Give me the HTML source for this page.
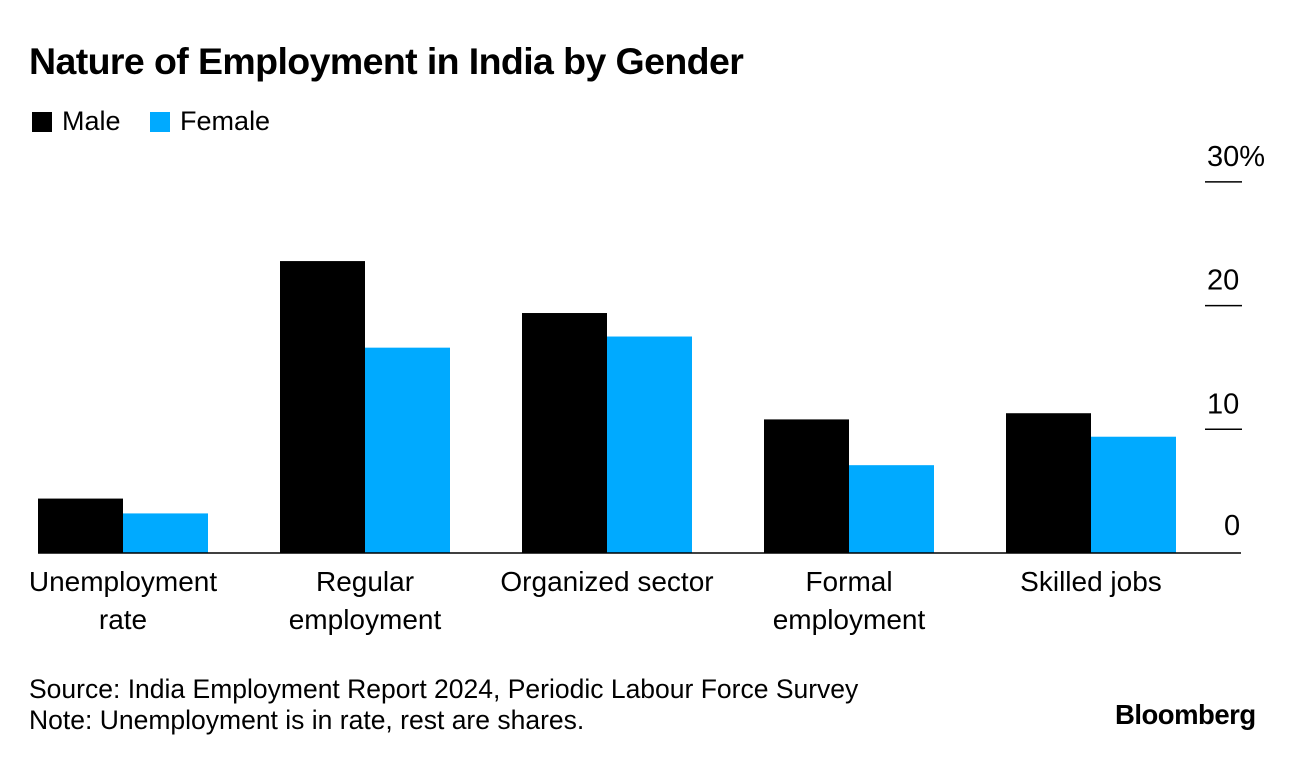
<!DOCTYPE html>
<html><head><meta charset="utf-8">
<style>
body{margin:0;background:#fff;font-family:"Liberation Sans",Arial,sans-serif;}
#wrap{position:relative;width:1296px;height:760px;overflow:hidden;}
.t{position:absolute;color:#000;white-space:nowrap;}
</style></head>
<body>
<div id="wrap">
<div class="t" style="left:29px;top:40px;font-size:37.5px;font-weight:bold;letter-spacing:-0.6px;">Nature of Employment in India by Gender</div>
<div style="position:absolute;left:32px;top:106px;font-size:27px;white-space:nowrap;">
 <span><span style="display:inline-block;width:20px;height:20px;background:#000;vertical-align:-2px;margin-right:10px;"></span>Male</span>
 <span style="margin-left:22px;"><span style="display:inline-block;width:20px;height:20px;background:#00aaff;vertical-align:-2px;margin-right:10px;"></span>Female</span>
</div>
<svg id="chart" width="1296" height="760" style="position:absolute;left:0;top:0;"></svg>
<div class="t" style="left:29px;top:674px;font-size:26.5px;line-height:31px;">Source: India Employment Report 2024, Periodic Labour Force Survey<br>Note: Unemployment is in rate, rest are shares.</div>
<div class="t" style="left:1115px;top:699px;font-size:27.5px;font-weight:bold;letter-spacing:-0.5px;">Bloomberg</div>
</div>
<script>
const categories=["Unemployment\nrate","Regular\nemployment","Organized sector","Formal\nemployment","Skilled jobs"];
const maleValues=[4.4,23.6,19.4,10.8,11.3];
const femaleValues=[3.2,16.6,17.5,7.1,9.4];
const tickValues=[0,10,20,30];
const tickLabels=["0","10","20","30%"];
const svg=document.getElementById('chart');
const NS='http://www.w3.org/2000/svg';
const y0=553,pxPerUnit=12.37;
function y(v){return y0-v*pxPerUnit;}
function gx(i){return 38+i*242;}
const bw=85;
function mk(tag,attrs){const e=document.createElementNS(NS,tag);for(const k in attrs)e.setAttribute(k,attrs[k]);svg.appendChild(e);return e;}
categories.forEach((c,i)=>{
 let r=mk('rect',{x:gx(i),y:y(maleValues[i]),width:bw,height:y0-y(maleValues[i]),fill:'#000'});
 
 
 let f=mk('rect',{x:gx(i)+bw,y:y(femaleValues[i]),width:bw,height:y0-y(femaleValues[i]),fill:'#00aaff'});
 
 
 const lines=c.split('\n');
 lines.forEach((ln,j)=>{
  let t=mk('text',{x:gx(i)+bw,y:591+j*38,'text-anchor':'middle','font-size':28,'font-family':'Liberation Sans, Arial, sans-serif'});
  t.textContent=ln;
  
  
 });
});
let base=mk('line',{x1:38,x2:1241,y1:y0,y2:y0,stroke:'#000','stroke-width':1.5});


tickValues.forEach((v,i)=>{
 if(v>0){
  let l=mk('line',{x1:1205,x2:1242,y1:y(v),y2:y(v),stroke:'#000','stroke-width':1.5});
  
  
 }
 let t=mk('text',{x:1207,y:v>0?y(v)-16:y(v)-18,'font-size':29,'font-family':'Liberation Sans, Arial, sans-serif'});
 if(v===0)t.setAttribute('x',1224);
 t.textContent=tickLabels[i];
 
 
});
</script>
</body></html>
